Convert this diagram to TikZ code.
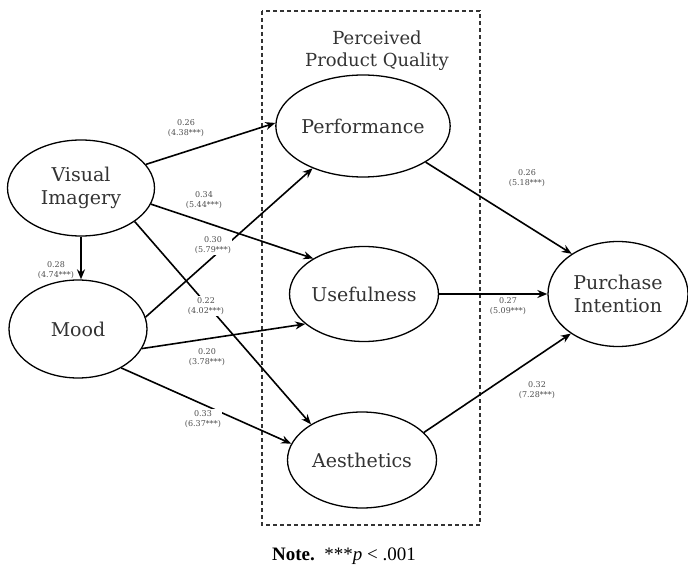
\documentclass[tikz,border=0pt]{standalone}
\usepackage{fontspec}
\setmainfont{DejaVu Serif}
\newfontfamily\notefont{Liberation Serif}
\usetikzlibrary{shapes.geometric,arrows.meta}
\begin{document}
\begin{tikzpicture}[x=1pt,y=-1pt,
  latent/.style={ellipse,draw,line width=1.3pt,inner sep=0pt,text=black!80,
    font=\fontsize{19}{23}\selectfont,align=center},
  path/.style={line width=1.6pt,-{Stealth[length=10pt,width=8pt]}},
  coef/.style={font=\fontsize{8}{10}\selectfont,text=black!70,align=center,inner sep=1pt},
  coefw/.style={coef,fill=white}]
\useasboundingbox (0,0) rectangle (688,580);
% dashed group box
\draw[line width=1.2pt,dash pattern=on 4pt off 3pt,black!80] (262,11) rectangle (480,525);
\node[font=\fontsize{18}{22}\selectfont,text=black!80,align=center] (pq) at (377,51) {Perceived\\Product Quality};
% latent variables
\node[latent,minimum width=147pt,minimum height=96pt] (vi) at (81,188) {Visual\\Imagery};
\node[latent,minimum width=138pt,minimum height=98pt] (mood) at (78,329) {Mood};
\node[latent,minimum width=143pt,minimum height=102pt] (perf) at (363,126) {Performance};
\node[latent,minimum width=145pt,minimum height=95pt] (use) at (364,294) {Usefulness};
\node[latent,minimum width=149pt,minimum height=96pt] (aes) at (362,460) {Aesthetics};
\node[latent,minimum width=140pt,minimum height=105pt] (pi) at (618,294) {Purchase\\Intention};
% paths
\draw[path] (vi.20) -- (perf.178);
\draw[path] (vi.-13) -- (use.145);
\draw[path] (vi.-32) -- (aes.145);
\draw[path] (vi.south) -- (vi.south |- mood.north);
\draw[path] (mood.10) -- (perf.220);
\draw[path] (mood.-17) -- (use.207);
\draw[path] (mood.-42) -- (aes.167);
\draw[path] (perf.-30) -- (pi.139);
\draw[path] (use.east) -- (pi.west);
\draw[path] (aes.24) -- (pi.220);
% coefficients
\node[coef] (c1) at (186,128) {0.26\\(4.38***)};
\node[coef] (c2) at (204,200) {0.34\\(5.44***)};
\node[coefw] (c3) at (213,245) {0.30\\(5.79***)};
\node[coef] (c4) at (56,270) {0.28\\(4.74***)};
\node[coefw] (c5) at (206,306) {0.22\\(4.02***)};
\node[coefw] (c6) at (207,357) {0.20\\(3.78***)};
\node[coefw] (c7) at (203,419) {0.33\\(6.37***)};
\node[coef] (c8) at (527,178) {0.26\\(5.18***)};
\node[coef] (c9) at (508,306) {0.27\\(5.09***)};
\node[coef] (c10) at (537,390) {0.32\\(7.28***)};
% note
\node[font=\notefont\fontsize{19}{22}\selectfont] (note) at (344,556) {\textbf{Note.}\ \ ***\textit{p} < .001};
\end{tikzpicture}
\end{document}
